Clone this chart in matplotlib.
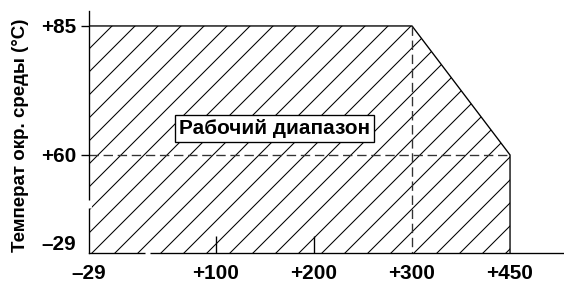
import numpy as np
import matplotlib
matplotlib.use("Agg")
import matplotlib.pyplot as plt

# chart values
temp_values = [85, 60, -29]
temp_labels = ["+85", "+60", "–29"]
x_values = [-29, 100, 200, 300, 450]
x_labels = ["–29", "+100", "+200", "+300", "+450"]
region_x = [-29, 300, 450]
region_top = [85, 85, 60]
region_label = "Рабочий диапазон"
y_title = "Температ окр. среды (°C)"

DPI = 138
plt.rcParams["font.family"] = ["Liberation Sans", "DejaVu Sans"]
plt.rcParams["font.weight"] = "bold"
plt.rcParams["hatch.linewidth"] = 0.55

KX = 0.6655   # compression of x beyond +300
KY = 0.1916   # compression of y below +60


def fx(x):
    x = np.asarray(x, dtype=float)
    return np.where(x <= 300, x, 300 + (x - 300) * KX)


def fx_inv(u):
    u = np.asarray(u, dtype=float)
    return np.where(u <= 300, u, 300 + (u - 300) / KX)


def fy(y):
    y = np.asarray(y, dtype=float)
    return np.where(y >= 60, y, 60 - (60 - y) * KY)


def fy_inv(v):
    v = np.asarray(v, dtype=float)
    return np.where(v >= 60, v, 60 - (60 - v) / KY)


fig = plt.figure(figsize=(564 / DPI, 282 / DPI), dpi=DPI)
ax = fig.add_axes([89 / 564, 1 - 253 / 282, 475 / 564, 242 / 282])
ax.set_xscale("function", functions=(fx, fx_inv))
ax.set_yscale("function", functions=(fy, fy_inv))
ax.set_xlim(-29, 532.6)
ax.set_ylim(-39.2, 87.9)
ybot = ax.get_ylim()[0]

lw = 0.7
ax.fill_between(region_x, region_top, ybot, facecolor="white", edgecolor="black",
                hatch="//", linewidth=0)
ax.plot(region_x + [region_x[-1]], region_top + [ybot], color="black", lw=lw,
        solid_joinstyle="miter")

dash = (0, (7, 3.5))
ax.plot([x_values[0], 450], [60, 60], color="#333333", lw=lw, ls=dash)
ax.plot([300, 300], [85, ybot], color="#333333", lw=lw, ls=dash)

ax.text(160, 65.1, region_label, ha="center", va="center", fontsize=10.8,
        fontweight="bold",
        bbox=dict(boxstyle="square,pad=0.2", facecolor="white",
                  edgecolor="black", linewidth=lw))

for side in ("top", "right"):
    ax.spines[side].set_visible(False)
for side in ("left", "bottom"):
    ax.spines[side].set_linewidth(lw)

ax.set_yticks(temp_values, temp_labels)
ax.set_xticks(x_values, x_labels)
ax.tick_params(axis="y", direction="out", length=4.3, width=lw, pad=2.5,
               labelsize=10.8)
ax.tick_params(axis="x", direction="in", length=8.9, width=lw, pad=5.5,
               labelsize=10.8)
for lab in ax.get_xticklabels() + ax.get_yticklabels():
    lab.set_fontweight("bold")
ax.yaxis.get_major_ticks()[2].tick1line.set_visible(False)
for i in (0, 3, 4):
    ax.xaxis.get_major_ticks()[i].tick1line.set_visible(False)

# axis breaks
ax.plot([0, 0], [fy_inv(60 - 45 / 5.16), fy_inv(60 - 53 / 5.16)],
        color="white", lw=2.5, solid_capstyle="butt", clip_on=False, zorder=5,
        transform=ax.get_yaxis_transform())
ax.plot([fx_inv(-29 + 56 / 0.9818), fx_inv(-29 + 61 / 0.9818)], [0, 0],
        color="white", lw=2.5, solid_capstyle="butt", clip_on=False, zorder=5,
        transform=ax.get_xaxis_transform())

fig.text(21 / 564, 1 - 135 / 282, y_title, rotation=90, ha="center",
         va="center", fontsize=9.8, fontweight="bold")

fig.savefig("out.png", dpi=DPI)
